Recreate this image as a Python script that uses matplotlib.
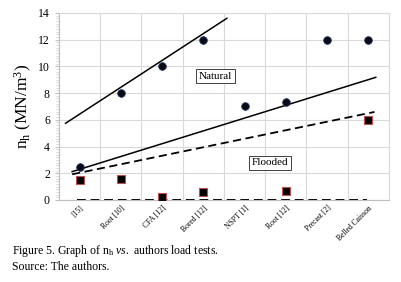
import numpy as np
import matplotlib
matplotlib.use("Agg")
import matplotlib.pyplot as plt
from matplotlib.ticker import MultipleLocator

plt.rcParams['font.family'] = ['Liberation Serif', 'DejaVu Serif']
plt.rcParams['mathtext.fontset'] = 'custom'
plt.rcParams['mathtext.rm'] = 'Liberation Serif'
plt.rcParams['mathtext.it'] = 'Liberation Serif:italic'

categories = ["[15]", "Root [10]", "CFA [12]", "Bored [12]", "NSPT [1]",
              "Root [12]", "Precast [2]", "Belled Caisson"]
natural = [2.5, 8.0, 10.0, 12.0, 7.0, 7.3, 12.0, 12.0]
flooded = [1.5, 1.6, 0.2, 0.6, np.nan, 0.7, np.nan, 6.0]

# trend lines (category index, value)
trend_steep_x = [-0.34, 3.57]
trend_steep_y = [5.74, 13.6]
trend_nat_x = [-0.18, 7.18]
trend_nat_y = [2.12, 9.18]
trend_fl_x = [-0.18, 7.15]
trend_fl_y = [1.92, 6.59]
trend_zero_x = [-0.07, 6.96]
trend_zero_y = [0.0, 0.0]

x = np.arange(len(categories))

fig = plt.figure(figsize=(4.01, 2.82), dpi=100)
ax = fig.add_axes([0.147, 0.291, 0.823, 0.663])

ax.plot(trend_steep_x, trend_steep_y, color='black', lw=1.1)
ax.plot(trend_nat_x, trend_nat_y, color='black', lw=1.1)
ax.plot(trend_fl_x, trend_fl_y, color='black', lw=1.3, ls=(0, (4.5, 2.5)))
ax.plot(trend_zero_x, trend_zero_y, color='black', lw=1.4, ls=(0, (4.5, 2.5)))

ax.plot(x, natural, 'o', color='#0a0a14', mec='#1f3864', ms=5.5, mew=0.6, zorder=3)
ax.plot(x, flooded, 's', color='black', mec='#c0504d', ms=5.5, mew=0.8, zorder=3)

ax.text(3.3, 9.28, "Natural", fontsize=8, ha='center', va='center',
        bbox=dict(boxstyle='square,pad=0.25', fc='white', ec='#404040', lw=0.7))
ax.text(4.61, 2.77, "Flooded", fontsize=8, ha='center', va='center',
        bbox=dict(boxstyle='square,pad=0.25', fc='white', ec='#404040', lw=0.7))

ax.set_xlim(-0.5, 7.5)
ax.set_ylim(0, 14)
ax.yaxis.set_major_locator(MultipleLocator(2))
ax.yaxis.set_minor_locator(MultipleLocator(0.2))
ax.set_xticks(x)
ax.set_xticklabels(categories, rotation=45, ha='right', rotation_mode='anchor', fontsize=5.5)
ax.set_xticks(np.arange(-0.5, 8, 1), minor=True)
ax.tick_params(axis='x', which='both', length=0, pad=3)
ax.tick_params(axis='y', which='major', labelsize=8.5, length=3, color='#bfbfbf')
ax.tick_params(axis='y', which='minor', length=2, color='#d0d0d0')

ax.grid(True, axis='y', which='major', color='#d9d9d9', lw=0.8)
ax.grid(True, axis='x', which='minor', color='#d9d9d9', lw=0.8)
for s in ax.spines.values():
    s.set_color('#d9d9d9')
ax.spines['left'].set_color('#bfbfbf')
ax.spines['bottom'].set_color('#bfbfbf')

ax.set_ylabel(r"n$_\mathrm{h}$ (MN/m$^\mathrm{3}$)", fontsize=12.5, labelpad=3)

fig.text(0.03, 0.1, r"Figure 5. Graph of n$_\mathrm{h}$ $\mathit{vs.}$ authors load tests.", fontsize=8.5)
fig.text(0.03, 0.044, "Source: The authors.", fontsize=8.5)

fig.savefig("out.png", dpi=100)
